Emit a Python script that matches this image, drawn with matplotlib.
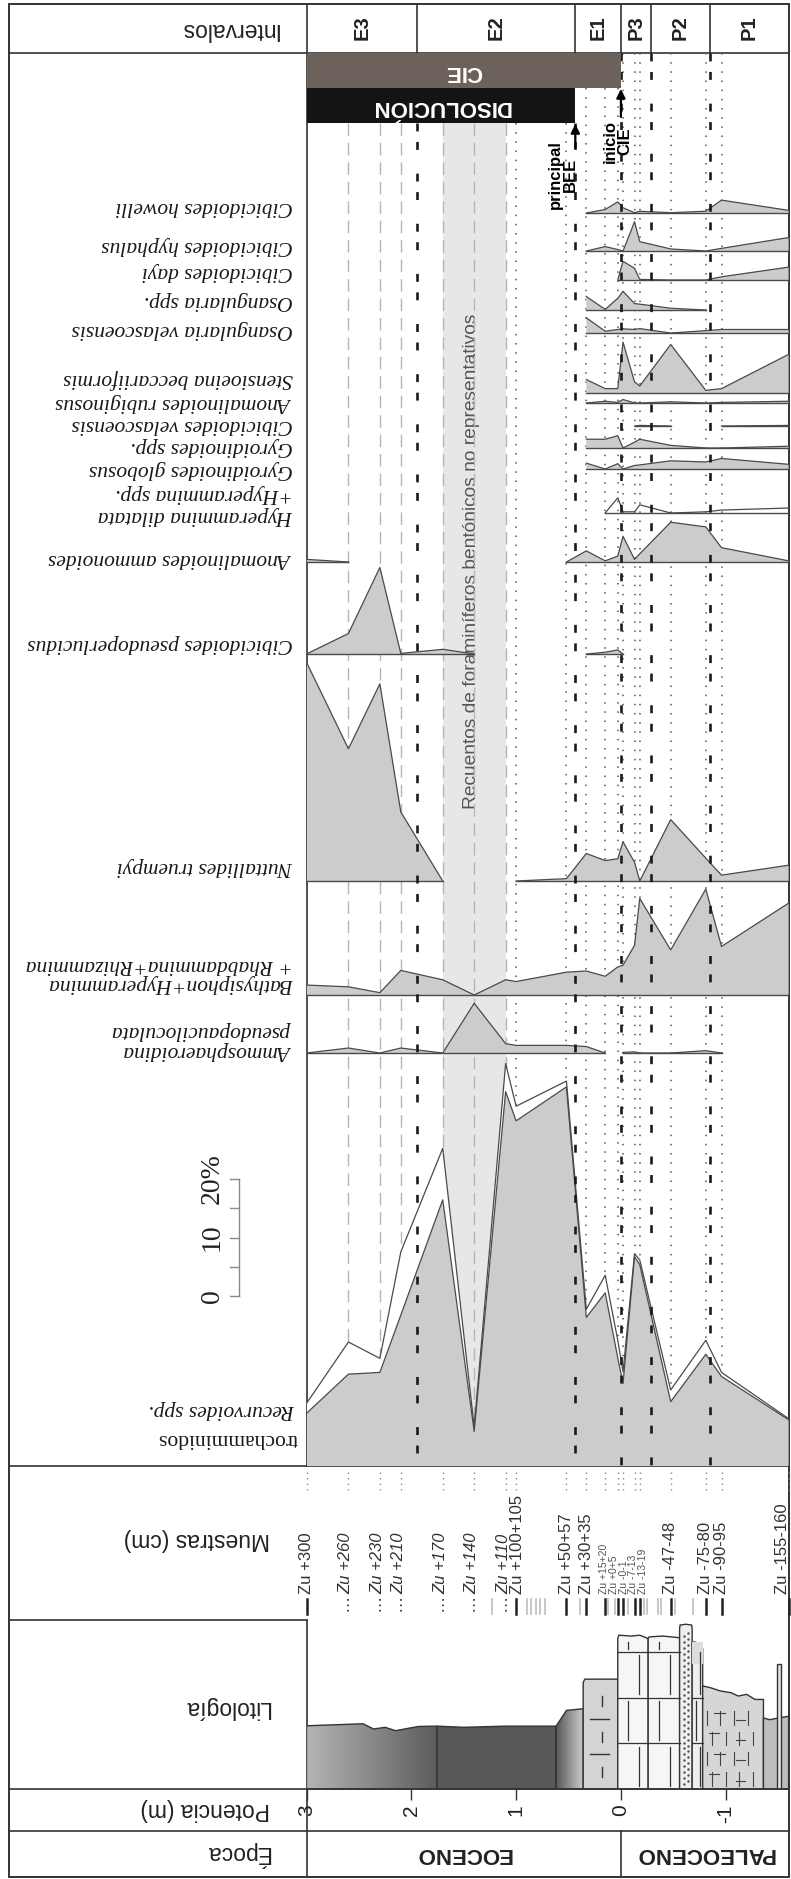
import numpy as np
import matplotlib.pyplot as plt
from matplotlib.patches import Rectangle, Polygon
from matplotlib.colors import LinearSegmentedColormap
from matplotlib.transforms import blended_transform_factory

plt.rcParams['font.family'] = ['Liberation Sans', 'DejaVu Sans']
n = np.nan

# samples: position in m relative to the P/E boundary, and label
sample_m = [3.0, 2.6, 2.3, 2.1, 1.7, 1.4, 1.1, 1.0, 0.52, 0.33, 0.15, 0.03,
            -0.02, -0.13, -0.18, -0.475, -0.81, -0.96, -1.6]
sample_lab = ['Zu +300', 'Zu +260', 'Zu +230', 'Zu +210', 'Zu +170', 'Zu +140',
              'Zu +110', 'Zu +100+105', 'Zu +50+57', 'Zu +30+35', 'Zu +15+20',
              'Zu +0+5', 'Zu -0-1', 'Zu -7-13', 'Zu -13-19', 'Zu -47-48',
              'Zu -75-80', 'Zu -90-95', 'Zu -155-160']
sample_kind = ['n', 'i', 'i', 'i', 'i', 'i', 'i', 'n', 'n', 'n',
               's', 's', 's', 's', 's', 'n', 'n', 'n', 'n']
extra_samples_m = [1.23, 0.9, 0.86, 0.81, 0.77, 0.72, 0.39, 0.12, 0.06, -0.07,
                   -0.22, -0.25, -0.35, -0.38, -0.52, -0.69]

# relative abundances (%)
howelli = [n]*9 + [0, 0.6, 1.9, 0.9, 0.05, 0.3, 0.05, 0.3, 2.2, 0.45]
hyphalus = [n]*9 + [0, 0.75, 0.25, 0, 5.0, 1.6, 0.35, 0, 0.45, 2.3]
dayi = [n]*11 + [0, 3.2, 2.0, 0.1, 0, 0, 0.55, 2.2]
osang_spp = [n]*9 + [2.3, 0.1, 2.0, 3.2, 1.1, 1.0, 0.3, 0, n, n]
osang_vel = [n]*9 + [2.6, 0.3, 0.6, 0.7, 0.6, 0.75, 0, 0.4, 0.6, 0.6]
stensioeina = [n]*9 + [2.3, 0.75, 0.75, 8.7, 1.9, 1.2, 8.3, 0.45, 0.75, 6.6]
rubiginosus = [n]*9 + [0, 0.3, 0.1, 0.6, 0, 0, 0.2, 0, 0.1, 0.3]
cib_velasc = [n]*13 + [0, 0.1, 0, n, 0, 0.1]
gyro_spp = [n]*9 + [1.5, 1.5, 2.1, 0, 1.0, 1.5, 0.45, 0, 0, 0.3]
gyro_glob = [n]*9 + [1.0, 0, 0.9, 0, 0.6, 0.7, 1.4, 1.2, 1.8, 0.8]
hyperammina = [n]*10 + [0, 2.6, 0.2, 0.2, 1.4, 0, 0.2, 0.5, 0.85]
ammonoides = [0.45, 0, n, n, n, n, n, n, 0, 1.9, 0.2, 1.0, 4.4, 0.45, 1.4, 6.8, 6.0, 2.45, 0.2]
pseudoperl = [0, 3.5, 14.8, 0.1, 0.8, 0, n, n, n, 0, 0.3, 0.7, 0, n, n, n, n, n, n]
nuttallides = [37.4, 22.6, 33.7, 11.8, 0, n, n, 0, 0.4, 4.7, 3.5, 3.8, 6.7, 3.2, 0, 10.5, 3.9, 1.0, 2.7]
bathysiphon = [1.7, 1.4, 0.4, 4.2, 2.6, 0, 2.6, 2.3, 3.9, 4.1, 3.2, 4.8, 5.1, 8.5, 16.5, 7.7, 18.1, 8.3, 15.7]
ammosph = [0, 0.85, 0, 0.85, 0, 8.5, 1.6, 1.3, 1.3, 1.1, 0, n, 0.1, 0.2, 0, 0, 0.4, 0, n]
trochammin = [9.0, 15.7, 16.0, 25.8, 45.5, 5.9, 64.0, 59.0, 64.8, 25.4, 29.6, 18.5, 14.1, 35.8, 34.4, 11.0, 19.1, 15.3, 7.9]
recurvoides = [1.7, 5.5, 2.4, 10.8, 8.8, 0.8, 4.8, 2.5, 1.0, 1.4, 3.0, 3.0, 2.0, 0.5, 0.8, 2.0, 2.4, 0.7, 0.2]

# intervals, events, epochs
int_names = ['E3', 'E2', 'E1', 'P3', 'P2', 'P1']
int_edges = [3.0, 1.945, 0.435, 0.0, -0.285, -0.848, -1.6]
cie_onset = 0.0
bee_main = 0.435
band_m = (1.7, 1.1)
epoch_names = ['EOCENO', 'PALEOCENO']
epoch_edges = [3.0, 0.0, -1.6]
pot_ticks = [3, 2, 1, 0, -1]

# lithology: top profile of each unit (m, relative height) and colour
lith_units = [
    ([3.0, 2.46, 2.36, 2.25, 2.15, 2.02, 1.93, 1.755],
     [0.374, 0.386, 0.355, 0.365, 0.345, 0.36, 0.37, 0.372], ('#b4b4b4', '#5c5c5c'), None),
    ([1.755, 1.5, 1.1, 0.62], [0.372, 0.365, 0.372, 0.372], '#575757', None),
    ([0.62, 0.52, 0.36], [0.37, 0.465, 0.475], ('#575757', '#cfcfcf'), None),
    ([0.36, 0.345, 0.03], [0.63, 0.65, 0.65], '#d4d4d4', 'marl'),
    ([0.03, 0.02, -0.1, -0.18, -0.26], [0.89, 0.91, 0.905, 0.91, 0.89], '#f6f6f6', 'lime'),
    ([-0.26, -0.27, -0.4, -0.56], [0.89, 0.90, 0.905, 0.895], '#f6f6f6', 'lime'),
    ([-0.56, -0.565, -0.62, -0.675, -0.68], [0.95, 0.97, 0.975, 0.97, 0.95], '#efefef', 'sand'),
    ([-0.68, -0.70, -0.76, -0.78], [0.87, 0.87, 0.86, 0.83], '#eeeeee', 'lime'),
    ([-0.78, -0.85, -0.95, -1.05, -1.12, -1.2, -1.28, -1.36],
     [0.61, 0.6, 0.58, 0.57, 0.55, 0.56, 0.53, 0.53], '#d6d6d6', 'brick'),
    ([-1.36, -1.42, -1.5, -1.6], [0.42, 0.41, 0.42, 0.43], '#bdbdbd', None),
    ([-1.487, -1.487, -1.527, -1.527], [0.70, 0.74, 0.74, 0.70], '#e2e2e2', None),
]

# ---- layout (pixels of the 791 x 1879 figure) ----
W, H = 791, 1879
X0, X1 = 306.5, 788.6
TOP, BOT = 52.7, 1466.0
PX = 5.85          # pixels per 1 %
EDGE, FILL = '#4a4a4a', '#cccccc'

fig = plt.figure(figsize=(W / 100, H / 100), dpi=100)
fr = fig.add_axes([0, 0, 1, 1])
fr.set_xlim(0, W)
fr.set_ylim(H, 0)
fr.axis('off')


def col_axes(y0, y1):
    return fig.add_axes([X0 / W, 1 - y1 / H, (X1 - X0) / W, (y1 - y0) / H])


ax = col_axes(TOP, BOT)
ax.set_xlim(3.0, -1.6)
ax.set_ylim(0, (BOT - TOP) / PX)
ax.axis('off')
bt = blended_transform_factory(ax.transData, fr.transData)


def ypct(px):
    return (BOT - px) / PX


# ---- frame ----
lk = dict(color='#333333', lw=1.2)
fr.add_patch(Rectangle((9, 4), 780, 1873, fill=False, ec='#333333', lw=1.4))
fr.plot([X0, X0], [4, BOT], **lk)
fr.plot([X0, X0], [1620, 1877], **lk)
for y in [TOP, BOT, 1789, 1831]:
    fr.plot([9, 789], [y, y], **lk)
fr.plot([9, X0], [1620, 1620], **lk)

hdr = dict(rotation=180, rotation_mode='anchor', ha='left', va='center', fontsize=16.5, color='#222222')
fr.text(278, 29, 'Intervalos', **hdr)
fr.text(270, 1540, 'Muestras (cm)', **hdr)
fr.text(270, 1708, 'Litología', **hdr)
fr.text(270, 1810, 'Potencia (m)', **hdr)
fr.text(270, 1854, 'Época', **hdr)

# intervals row
for e in int_edges[1:-1]:
    ax.plot([e, e], [4, TOP], transform=bt, clip_on=False, **lk)
for i, name in enumerate(int_names):
    c = (int_edges[i] + int_edges[i + 1]) / 2
    ax.text(c, 28, name, transform=bt, rotation=90, ha='center', va='center',
            fontsize=14.5, fontweight='bold', color='#222222')

# epoch row
ax.plot([epoch_edges[1]] * 2, [1831, 1877], transform=bt, clip_on=False, **lk)
for i, name in enumerate(epoch_names):
    c = (epoch_edges[i] + epoch_edges[i + 1]) / 2
    ax.text(c, 1854, name, transform=bt, rotation=180, ha='center', va='center',
            rotation_mode='anchor', fontsize=16, fontweight='bold', color='#222222')

# CIE and dissolution bars
ax.add_patch(Rectangle((cie_onset, TOP), 3.0 - cie_onset, 35.5, transform=bt,
                       fc='#6c615b', ec='none', clip_on=False, zorder=6))
ax.add_patch(Rectangle((bee_main, 88.2), 3.0 - bee_main, 34.8, transform=bt,
                       fc='#141414', ec='none', clip_on=False, zorder=6))
ax.text((3.0 + cie_onset) / 2, 71, 'CIE', transform=bt, rotation=180, rotation_mode='anchor',
        ha='center', va='center', color='white', fontsize=16, fontweight='bold', zorder=7)
ax.text((3.0 + bee_main) / 2, 106, 'DISOLUCIÓN', transform=bt, rotation=180, rotation_mode='anchor',
        ha='center', va='center', color='white', fontsize=16, fontweight='bold', zorder=7)

# arrows
ap = dict(arrowstyle='-|>', color='black', lw=1.6, mutation_scale=13, shrinkA=0, shrinkB=0)
ax.annotate('', xy=(bee_main, 124), xytext=(bee_main, 148), xycoords=bt, textcoords=bt,
            arrowprops=ap, annotation_clip=False, zorder=7)
ax.annotate('', xy=(cie_onset, 89), xytext=(cie_onset, 117), xycoords=bt, textcoords=bt,
            arrowprops=ap, annotation_clip=False, zorder=7)
ax.text(bee_main + 0.12, 175, 'principal\nBEE', transform=bt, rotation=90, ha='center',
        va='center', multialignment='center', fontsize=12, fontweight='bold', linespacing=1.0)
ax.text(cie_onset + 0.03, 141, 'inicio\nCIE', transform=bt, rotation=90, ha='center',
        va='center', multialignment='center', fontsize=12, fontweight='bold', linespacing=1.0)

# gray band of non-representative counts
ax.add_patch(Rectangle((band_m[1], 123), band_m[0] - band_m[1], BOT - 123, transform=bt,
                       fc='#e7e7e7', ec='none', zorder=0))
ax.text(sum(band_m) / 2 + 0.03, 561, 'Recuentos de foraminíferos bentónicos no representativos',
        transform=bt, rotation=90, ha='center', va='center', fontsize=13.8, color='#555555', zorder=1)

# sample lines
for m in sample_m[1:-1]:
    top = 123 if m > bee_main else (88 if m > cie_onset else TOP)
    if m > 1.05:
        ax.plot([m, m], [top, BOT], transform=bt, color='#b5b5b5', lw=1.0,
                ls=(0, (9, 5)), zorder=1)
    else:
        ax.plot([m, m], [top, BOT], transform=bt, color='#555555', lw=1.1,
                ls=(0, (1, 5)), zorder=1)
for e in int_edges[1:-1]:
    top = 123 if e > cie_onset else TOP
    ax.plot([e, e], [top, BOT], transform=bt, color='#1a1a1a', lw=1.9,
            ls=(0, (3, 4, 3, 9)), zorder=5)

# ---- species curves ----
xs = np.array(sample_m)


def draw_species(vals, base_px, fill=True):
    v = np.array(vals, float)
    b = ypct(base_px)
    if fill:
        ax.fill_between(xs, b, b + v, facecolor=FILL, edgecolor='none', zorder=2)
    ax.plot(xs, b + v, color=EDGE, lw=0.9, zorder=3)
    ax.plot(xs, b + 0 * v, color=EDGE, lw=1.0, zorder=3)


species = [
    (howelli, 213, True, [('Cibicidoides howelli', 206)]),
    (hyphalus, 251, True, [('Cibicidoides hyphalus', 245)]),
    (dayi, 280, True, [('Cibicidoides dayi', 271)]),
    (osang_spp, 310, True, [('Osangularia spp.', 300)]),
    (osang_vel, 333, True, [('Osangularia velascoensis', 329)]),
    (stensioeina, 393, True, [('Stensioeina beccariiformis', 379)]),
    (rubiginosus, 403, True, [('Anomalinoides rubiginosus', 402)]),
    (cib_velasc, 426, True, [('Cibicidoides velascoensis', 424)]),
    (gyro_spp, 448, True, [('Gyroidinoides spp.', 446)]),
    (gyro_glob, 469, True, [('Gyroidinoides globosus', 469)]),
    (hyperammina, 513, False, [('Hyperammina dilatata', 515.5), ('+Hyperammina spp.', 493)]),
    (ammonoides, 562, True, [('Anomalinoides ammonoides', 558)]),
    (pseudoperl, 654, True, [('Cibicidoides pseudoperlucidus', 643)]),
    (nuttallides, 881, True, [('Nuttallides truempyi', 866.5)]),
    (bathysiphon, 995, True, [('Bathysiphon+Hyperammina', 983.5), ('+ Rhabdammina+Rhizammina', 964.5)]),
    (ammosph, 1053, True, [('Ammosphaeroidina', 1050.5), ('pseudopauciloculata', 1030.5)]),
]
sp_font = dict(family='Liberation Serif', style='italic', fontsize=15.5, color='#1a1a1a',
               rotation=180, rotation_mode='anchor', ha='left', va='center')
for vals, base, fill, labs in species:
    draw_species(vals, base, fill)
    for txt, y in labs:
        fr.text(293, y, txt, **sp_font)

# trochamminids with Recurvoides stacked on top
t = np.array(trochammin)
r = np.array(recurvoides)
ax.fill_between(xs, 0, t, facecolor=FILL, edgecolor='none', zorder=2)
ax.fill_between(xs, t, t + r, facecolor='white', edgecolor='none', zorder=2)
ax.plot(xs, t, color=EDGE, lw=0.9, zorder=3)
ax.plot(xs, t + r, color=EDGE, lw=0.9, zorder=3)
fr.text(295, 1409, 'Recurvoides spp.', **sp_font)
fr.text(298, 1439, 'trochamminidos', **{**sp_font, 'style': 'normal'})

# scale bar
sb0 = 1296
fr.plot([239, 239], [sb0, sb0 - 20 * PX], color='#8a8a8a', lw=1.0)
for v in [0, 5, 10, 15, 20]:
    fr.plot([230, 239], [sb0 - v * PX] * 2, color='#8a8a8a', lw=1.0)
for v, s in [(0, '0'), (10, '10'), (20, '20%')]:
    fr.text(212, sb0 - v * PX, s, rotation=90, ha='center', va='center',
            family='Liberation Serif', fontsize=20, color='#222222')

# ---- samples row ----
for m in sample_m:
    ax.plot([m, m], [1472, 1492], transform=bt, color='#8a8a8a', lw=1.0,
            ls=(0, (1, 3)), clip_on=False)
for m in extra_samples_m:
    ax.plot([m, m], [1599, 1614], transform=bt, color='#bdbdbd', lw=1.2, clip_on=False)
small_pos = np.linspace(0.16, -0.21, 5)
k = 0
for m, lab, kind in zip(sample_m, sample_lab, sample_kind):
    tx = min(m, 1.0 - 0.012) if lab == 'Zu +100+105' else max(m, -1.54)
    if kind == 'i':
        ax.plot([m, m], [1599, 1614], transform=bt, color='#444444', lw=1.3,
                ls=(0, (1, 2)), clip_on=False)
        ax.text(m + 0.02, 1594, lab, transform=bt, rotation=90, rotation_mode='anchor', ha='left',
                va='center', fontsize=12, style='italic', color='#333333')
    elif kind == 's':
        ax.plot([m, m], [1599, 1614], transform=bt, color='#222222', lw=1.8, clip_on=False)
        ax.text(small_pos[k], 1594, lab, transform=bt, rotation=90, rotation_mode='anchor',
                ha='left', va='center', fontsize=7.5, color='#555555')
        k += 1
    else:
        ax.plot([m, m], [1599, 1614], transform=bt, color='#222222', lw=1.8, clip_on=False)
        ax.text(tx, 1594, lab, transform=bt, rotation=90, rotation_mode='anchor', ha='left',
                va='center', fontsize=12, color='#333333')

# ---- lithology + thickness axis ----
lx = col_axes(1620, 1789)
for s in ['top', 'left', 'right']:
    lx.spines[s].set_visible(False)
lx.spines['bottom'].set_color('#333333')
lx.spines['bottom'].set_linewidth(1.2)
lx.set_yticks([])
lx.set_xticks(pot_ticks)
lx.set_xticklabels([str(p) for p in pot_ticks], rotation=90, fontsize=15, color='#222222')
lx.tick_params(axis='x', length=8, width=1.0, color='#333333', pad=3)
lx.patch.set_visible(False)


def texture(kind, xa, xb, h):
    w = xa - xb
    if kind == 'marl':
        for j, hh in enumerate(np.arange(0.1, h - 0.05, 0.105)):
            if j % 2:
                lx.plot([xa - 0.2 * w, xb + 0.25 * w], [hh, hh], color='#333333', lw=1.0, zorder=3)
            else:
                lx.plot([xa - 0.55 * w] * 2, [hh - 0.03, hh + 0.03], color='#333333', lw=1.0, zorder=3)
    elif kind == 'lime':
        levels = np.arange(0.27, h - 0.05, 0.27)
        for hh in levels:
            lx.plot([xa, xb], [hh, hh], color='#333333', lw=0.9, zorder=3)
        for j, (lo, hi) in enumerate(zip(np.r_[0, levels], np.r_[levels, h])):
            xm = xa - w * (0.35 if j % 2 else 0.7)
            lx.plot([xm, xm], [lo + 0.02, hi - 0.02], color='#333333', lw=0.9, zorder=3)
    elif kind == 'sand':
        for hh in np.arange(0.03, h - 0.02, 0.035):
            lx.scatter([xa - 0.33 * w, xa - 0.67 * w], [hh, hh + 0.017], s=0.6,
                       color='#555555', zorder=3)
    elif kind == 'brick':
        rows = np.arange(0.0, h - 0.08, 0.12)
        for j, lo in enumerate(rows):
            lx.plot([xa - 0.06 - 0.05 * (j % 2), xa - 0.16 - 0.05 * (j % 2)], [lo + 0.09] * 2,
                    color='#444444', lw=0.8, zorder=3)
            lx.plot([xa - 0.32, xa - 0.40], [lo + 0.05] * 2, color='#444444', lw=0.8, zorder=3)
            off = 0.04 if j % 2 else 0.09
            for xm in np.arange(xa - off, xb + 0.02, -0.13):
                lx.plot([xm, xm], [lo + 0.02, min(lo + 0.1, h - 0.03)], color='#444444',
                        lw=0.8, zorder=3)


for xp, hp, col, tex in lith_units:
    verts = [(xp[0], 0)] + list(zip(xp, hp)) + [(xp[-1], 0)]
    if isinstance(col, tuple):
        poly = Polygon(verts, closed=True, fc='none', ec='#333333', lw=1.0, zorder=2)
        lx.add_patch(poly)
        cm = LinearSegmentedColormap.from_list('g', list(col))
        im = lx.imshow(np.linspace(0, 1, 200)[None, :], extent=(xp[0], xp[-1], 0, 1),
                       cmap=cm, aspect='auto', zorder=1, interpolation='bilinear')
        im.set_clip_path(poly)
    else:
        lx.add_patch(Polygon(verts, closed=True, fc=col, ec='#333333', lw=1.0, zorder=2))
    if tex:
        texture(tex, xp[0], xp[-1], min(hp))
lx.add_patch(Rectangle((-0.78, 0.74), 0.1, 0.13, fc='#dcdcdc', ec='none', zorder=2.5))
lx.set_xlim(3.0, -1.6)
lx.set_ylim(0, 1)

fig.savefig('out.png', dpi=100)
